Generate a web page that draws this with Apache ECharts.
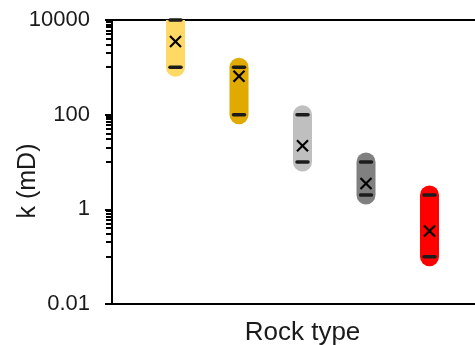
<!DOCTYPE html>
<html>
<head>
<meta charset="utf-8">
<script src="https://cdn.jsdelivr.net/npm/echarts@6/dist/echarts.min.js"></script>
<style>html,body{margin:0;padding:0;background:#fff}#c{width:475px;height:345px}</style>
</head>
<body>
<div id="c"></div>
<script>
// Data
var categories = ['1', '2', '3', '4', '5'];
var positions = [1, 2, 3, 4, 5];
var minValues = [1000, 100, 10, 2, 0.1];
var maxValues = [10000, 1000, 100, 10, 2];
var markValues = [3500, 650, 22, 3.5, 0.35];
var barColors = ['#FFD966', '#E0AA00', '#BFBFBF', '#808080', '#FF0000'];
var yTickLabels = ['0.01', '1', '100', '10000'];
var minorTickValues = [0.1, 0.2, 0.3, 0.4, 0.5, 0.6, 0.7, 0.8, 0.9,
  10, 20, 30, 40, 50, 60, 70, 80, 90,
  1000, 2000, 3000, 4000, 5000, 6000, 7000, 8000, 9000];

var font = 'Liberation Sans, Arial, sans-serif';

var rangeData = positions.map(function (p, i) { return [p, minValues[i], maxValues[i], i]; });
var markData = positions.map(function (p, i) { return [p, markValues[i], minValues[i], maxValues[i]]; });

var chart = echarts.init(document.getElementById('c'), null, { renderer: 'canvas' });
chart.setOption({
  animation: false,
  grid: { left: 112, top: 20, bottom: 41, right: -18, show: true, borderColor: '#000', borderWidth: 2, containLabel: false, outerBoundsMode: 'none' },
  xAxis: {
    type: 'value', min: 0, max: 6,
    axisLine: { show: true, lineStyle: { color: '#000', width: 2 } },
    axisTick: { show: false }, axisLabel: { show: false }, splitLine: { show: false },
    name: 'Rock type', nameLocation: 'middle', nameGap: 16,
    nameTextStyle: { fontFamily: font, fontSize: 26, color: '#1a1a1a' }
  },
  yAxis: {
    type: 'log', logBase: 100, min: 0.01, max: 10000,
    axisLine: { show: true, lineStyle: { color: '#000', width: 2 } },
    axisTick: { show: true, inside: false, length: 7, lineStyle: { color: '#000', width: 2 } },
    axisLabel: {
      fontFamily: font, fontSize: 22, color: '#1a1a1a', margin: 22,
      formatter: function (v) {
        var idx = Math.round(Math.log(v) / Math.log(100)) + 1;
        return yTickLabels[idx] !== undefined ? yTickLabels[idx] : String(v);
      }
    },
    splitLine: { show: false }
  },
  graphic: [{
    id: 'ylabel', type: 'text', x: 28, y: 181, rotation: Math.PI / 2,
    style: { text: 'k (mD)', font: '25px ' + font, fill: '#1a1a1a', align: 'center', verticalAlign: 'middle' }
  }],
  series: [
    {
      type: 'custom', clip: true, data: rangeData, encode: { x: 0, y: [1, 2] },
      renderItem: function (params, api) {
        var a = api.coord([api.value(0), api.value(1)]);
        var b = api.coord([api.value(0), api.value(2)]);
        return {
          type: 'line', shape: { x1: a[0], y1: a[1], x2: b[0], y2: b[1] },
          style: { stroke: barColors[api.value(3)], lineWidth: 19, lineCap: 'round' }
        };
      }
    },
    {
      type: 'custom', data: markData, encode: { x: 0, y: 1 },
      renderItem: function (params, api) {
        var x = api.value(0);
        var m = api.coord([x, api.value(1)]);
        var lo = api.coord([x, api.value(2)]);
        var hi = api.coord([x, api.value(3)]);
        var s = 5.5, d = 5.5;
        var dashStyle = { stroke: '#1c1c1c', lineWidth: 3.5, lineCap: 'round' };
        var xStyle = { stroke: '#000', lineWidth: 2.2 };
        return {
          type: 'group', children: [
            { type: 'line', shape: { x1: lo[0] - d, y1: lo[1], x2: lo[0] + d, y2: lo[1] }, style: dashStyle },
            { type: 'line', shape: { x1: hi[0] - d, y1: hi[1], x2: hi[0] + d, y2: hi[1] }, style: dashStyle },
            { type: 'line', shape: { x1: m[0] - s, y1: m[1] - s, x2: m[0] + s, y2: m[1] + s }, style: xStyle },
            { type: 'line', shape: { x1: m[0] - s, y1: m[1] + s, x2: m[0] + s, y2: m[1] - s }, style: xStyle }
          ]
        };
      }
    }
  ]
});

// Minor ticks on the log axis, positioned through the library's own scale
var x0 = chart.convertToPixel({ xAxisIndex: 0 }, 0);
var tickGraphics = minorTickValues.map(function (v, i) {
  var y = Math.round(chart.convertToPixel({ yAxisIndex: 0 }, v));
  return {
    id: 'minor' + i, type: 'line', z: 100,
    shape: { x1: x0 - 6, y1: y, x2: x0, y2: y },
    style: { stroke: '#000', lineWidth: 2 }
  };
});
chart.setOption({ graphic: tickGraphics });
</script>
</body>
</html>
